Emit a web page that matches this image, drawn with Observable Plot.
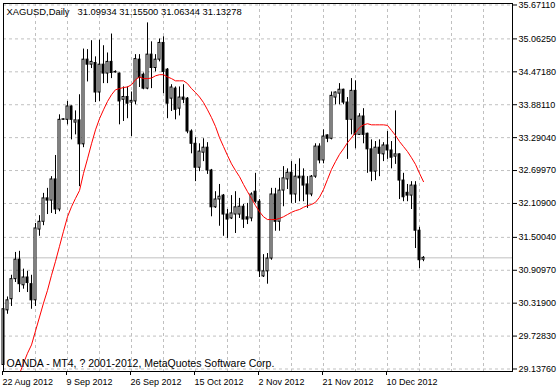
<!DOCTYPE html>
<html><head><meta charset="utf-8">
<script src="https://cdn.jsdelivr.net/npm/d3@7"></script>
<script src="https://cdn.jsdelivr.net/npm/@observablehq/plot@0.6"></script>
<style>html,body{margin:0;padding:0;background:#fff;} svg{display:block}</style>
</head><body><div id="chart"></div>
<script>
const symbolText = "XAGUSD,Daily";
const copyrightText = "OANDA - MT4, ? 2001-2012, MetaQuotes Software Corp.";

const openP = [29.21,30.19,30.39,30.75,31.10,30.64,30.78,30.66,30.37,31.64,
 31.78,32.20,32.16,32.54,32.00,33.61,33.61,33.85,33.56,33.60,
 33.17,34.69,34.60,34.63,34.10,34.60,34.44,34.65,34.46,34.44,
 33.97,34.02,33.92,33.94,34.69,34.42,34.17,34.78,34.54,34.69,
 34.99,34.51,33.99,34.17,33.81,34.01,33.99,33.40,33.18,32.75,
 33.02,33.11,32.70,32.04,32.18,32.25,31.91,31.84,31.91,31.91,
 32.05,31.86,31.84,32.32,32.14,30.80,30.89,31.12,32.27,31.78,
 32.34,32.54,32.66,32.27,32.59,32.59,32.45,32.27,32.59,33.13,
 32.88,33.33,33.27,34.01,34.08,34.15,33.92,33.61,34.13,33.34,
 33.67,33.36,33.08,32.68,33.11,32.99,33.15,33.06,32.95,32.99,
 32.52,32.30,32.25,32.43,31.62,31.09934];
const highP = [30.26,30.43,30.82,31.23,31.25,30.93,30.89,30.82,31.75,31.89,
 32.29,32.38,32.59,32.97,33.70,33.63,33.94,33.86,33.77,34.06,
 34.88,34.87,35.03,34.74,35.04,34.94,34.81,35.15,34.49,34.45,
 34.20,34.20,34.11,34.78,34.78,34.45,35.35,35.01,34.78,35.06,
 35.10,34.53,34.24,34.20,34.20,34.24,34.01,33.43,33.29,33.18,
 33.27,33.20,32.72,32.32,32.45,32.27,32.00,32.25,32.32,32.20,
 32.09,32.11,32.30,32.65,32.18,31.19,31.21,32.38,32.38,32.56,
 32.77,32.73,32.86,32.81,32.91,32.73,32.59,32.61,33.18,33.18,
 33.43,33.34,34.11,34.11,34.26,34.16,34.01,34.35,34.31,33.72,
 33.81,33.37,33.25,33.22,33.25,33.20,33.40,33.22,33.77,33.00,
 32.65,32.45,32.50,32.50,31.68,31.15500];
const lowP = [29.17,30.12,30.26,30.69,30.51,30.57,30.51,30.21,30.26,31.52,
 31.71,31.91,31.93,31.91,31.96,33.60,33.52,33.25,33.34,32.41,
 33.11,34.29,34.53,33.92,33.94,34.26,34.26,34.35,34.45,33.52,
 33.58,33.63,33.31,33.88,34.19,34.15,34.15,34.17,34.47,34.65,
 34.08,33.63,33.76,33.61,33.68,33.90,33.36,33.00,32.50,32.68,
 32.86,32.63,31.87,32.02,31.70,31.52,31.48,31.82,31.57,31.84,
 31.66,31.73,31.78,32.11,30.78,30.78,30.66,31.09,31.61,31.61,
 32.05,32.36,32.11,32.11,32.14,32.14,32.02,32.23,32.56,32.82,
 32.82,33.20,33.25,33.88,33.88,33.88,32.90,33.34,33.09,33.33,
 33.18,32.65,32.50,32.52,32.59,32.86,32.90,32.73,32.81,32.18,
 32.14,32.14,32.00,31.30,30.94,31.06344];
const closeP = [30.21,30.37,30.75,31.10,30.66,30.78,30.68,30.37,31.66,31.78,
 32.20,32.16,32.54,32.00,33.61,33.62,33.85,33.61,33.60,33.17,
 34.69,34.60,34.65,34.10,34.60,34.44,34.65,34.45,34.47,33.94,
 34.02,33.90,33.95,34.70,34.36,34.17,34.78,34.54,34.69,34.99,
 34.47,33.90,34.19,33.79,34.01,33.97,33.40,33.18,32.75,33.04,
 33.11,32.70,32.04,32.18,32.23,31.91,31.82,31.93,32.04,32.05,
 31.82,31.82,32.27,32.14,30.89,30.89,31.12,32.27,31.78,32.34,
 32.56,32.66,32.27,32.59,32.56,32.43,32.27,32.59,33.13,32.88,
 33.31,33.27,34.04,34.10,34.15,33.92,33.61,34.13,33.34,33.67,
 33.34,33.08,32.68,33.11,33.00,33.15,33.06,32.93,32.99,32.52,
 32.22,32.25,32.43,31.62,31.09,31.13278];
const maValues = [null,null,null,null,29.05,29.24,29.42,29.57,29.82,30.07,
 30.32,30.55,30.82,31.07,31.34,31.61,31.87,32.05,32.20,32.34,
 32.65,32.91,33.18,33.43,33.63,33.79,33.94,34.06,34.15,34.17,
 34.19,34.20,34.24,34.33,34.38,34.35,34.35,34.36,34.40,34.42,
 34.42,34.38,34.35,34.31,34.31,34.31,34.26,34.17,34.10,34.02,
 33.92,33.79,33.65,33.49,33.29,33.13,32.97,32.82,32.70,32.59,
 32.45,32.32,32.20,32.07,31.96,31.87,31.82,31.82,31.82,31.84,
 31.87,31.91,31.95,31.98,32.00,32.04,32.07,32.09,32.13,32.22,
 32.36,32.54,32.72,32.86,32.99,33.09,33.20,33.29,33.38,33.47,
 33.52,33.54,33.52,33.52,33.52,33.52,33.51,33.42,33.33,33.22,
 33.13,33.04,32.93,32.81,32.65,32.50];
const priceTicks = [35.6711,35.0625,34.4718,33.8811,33.2904,32.6997,32.1090,31.5004,30.9097,30.3190,29.7283,29.1376];
const dateLabels = ["22 Aug 2012","9 Sep 2012","26 Sep 2012","15 Oct 2012","2 Nov 2012","21 Nov 2012","10 Dec 2012"];
const dateLabelIdx = [0,16,32,48,64,80,96];

const bars = openP.map((o,i)=>({i, open:o, high:highP[i], low:lowP[i], close:closeP[i]}));
const ma = maValues.map((v,i)=>({i, v})).filter(d=>d.v!=null);
const last = bars[bars.length-1];
const fmt = d => d.toFixed(5);
const gridIdx = d3.range(8, 121, 8);
const up = bars.filter(d=>d.close > d.open);
const down = bars.filter(d=>d.close < d.open);
const flat = bars.filter(d=>d.close === d.open);
const font = "'Liberation Sans', Arial, sans-serif";

const chart = Plot.plot({
  width: 558, height: 388,
  marginLeft: 3, marginRight: 46, marginTop: 3, marginBottom: 17,
  x: {domain: [0, 127.25]},
  y: {domain: [29.0927, 35.6980]},
  style: {fontFamily: font, fontSize: "9px", background: "#fff", color: "#000"},
  marks: [
    Plot.ruleX(gridIdx, {stroke: "#c0c0c0", strokeDasharray: "3,3"}),
    Plot.ruleY(priceTicks, {stroke: "#c0c0c0", strokeDasharray: "3,3"}),
    Plot.ruleY([last.close], {stroke: "#c0c0c0"}),
    Plot.ruleX(bars, {x: "i", y1: "low", y2: "high", stroke: "#000"}),
    Plot.rect(up, {x1: d=>d.i-0.25, x2: d=>d.i+0.25, y1: "open", y2: "close", fill: "#fff", stroke: "#000"}),
    Plot.rect(down, {x1: d=>d.i-0.25, x2: d=>d.i+0.25, y1: "open", y2: "close", fill: "#000", stroke: "#000"}),
    Plot.ruleY(flat, {x1: d=>d.i-0.375, x2: d=>d.i+0.375, y: "open", stroke: "#000"}),
    Plot.line(ma, {x: "i", y: "v", stroke: "#ff0000", strokeWidth: 1, clip: true}),
    Plot.frame({stroke: "#000"}),
    Plot.axisY({anchor: "right", ticks: priceTicks, tickFormat: fmt, tickSize: 4, tickPadding: 2, label: null, fontSize: 9}),
    Plot.axisX({anchor: "bottom", ticks: dateLabelIdx, tickFormat: d => dateLabels[dateLabelIdx.indexOf(d)], tickSize: 4, tickPadding: 3, textAnchor: "start", dx: -1, label: null, fontSize: 9}),
    Plot.text([symbolText], {text: d=>d, frameAnchor: "top-left", textAnchor: "start", lineAnchor: "bottom", dx: 3, dy: 11, fontSize: 9.4}),
    Plot.text([[last.open,last.high,last.low,last.close].map(fmt).join(" ")], {text: d=>d, frameAnchor: "top-left", textAnchor: "start", lineAnchor: "bottom", dx: 74, dy: 11, fontSize: 9.4}),
    Plot.text([copyrightText], {text: d=>d, frameAnchor: "bottom-left", textAnchor: "start", lineAnchor: "bottom", dx: 3, dy: -5, fontSize: 10.5}),
    Plot.text([last.close], {y: d=>d, text: fmt, frameAnchor: "right", textAnchor: "start", dx: 6, fill: "#fff", fontSize: 9, ariaLabel: "price-label"})
  ]
});
document.getElementById("chart").appendChild(chart);
// black box behind the current-price label
const lab = chart.querySelector('g[aria-label="price-label"]');
if (lab) {
  const t = lab.querySelector("text");
  const sr = chart.getBoundingClientRect();
  const r = t.getBoundingClientRect();
  const box = document.createElementNS("http://www.w3.org/2000/svg", "rect");
  box.setAttribute("x", r.left - sr.left - 2.5);
  box.setAttribute("y", r.top - sr.top + 0.5);
  box.setAttribute("width", r.width + 3.5);
  box.setAttribute("height", r.height - 1);
  box.setAttribute("fill", "#000");
  chart.insertBefore(box, lab);
}
</script>
</body></html>
